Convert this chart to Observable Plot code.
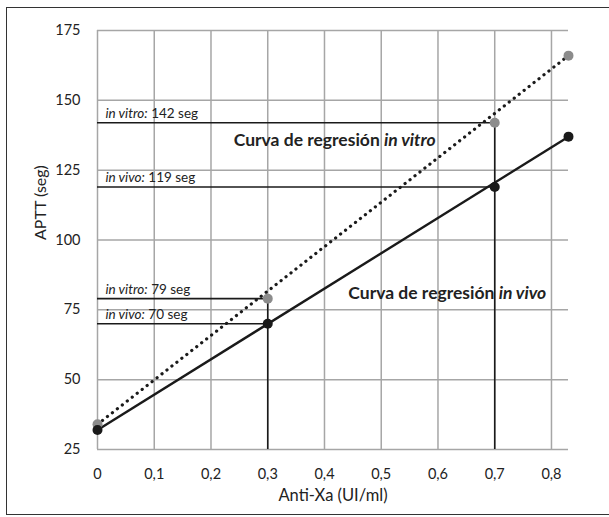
<!DOCTYPE html>
<html>
<head>
<meta charset="utf-8">
<script src="https://cdn.jsdelivr.net/npm/d3@7"></script>
<script src="https://cdn.jsdelivr.net/npm/@observablehq/plot@0.6"></script>
<style>
  html, body { margin: 0; padding: 0; background: #fff; overflow: hidden; }
  #wrap { position: relative; width: 609px; height: 517px; overflow: hidden; }
  #frame { position: absolute; left: 6px; top: 7px; width: 700px; height: 508px; border: 1.5px solid #333; box-sizing: border-box; }
  #chart { position: absolute; left: 0; top: 0; }
</style>
</head>
<body>
<div id="wrap"><div id="frame"></div><div id="chart"></div></div>
<script>
// ---- data ----
const dose = [0, 0.3, 0.7, 0.83];
const apttVitro = [34, 79, 142, 166];
const apttVivo = [32, 70, 119, 137];
const xTicks = [0, 0.1, 0.2, 0.3, 0.4, 0.5, 0.6, 0.7, 0.8];
const xTickLabels = ["0", "0,1", "0,2", "0,3", "0,4", "0,5", "0,6", "0,7", "0,8"];
const yTicks = [25, 50, 75, 100, 125, 150, 175];
const xTitle = "Anti-Xa (UI/ml)";
const yTitle = "APTT (seg)";
// reference readings (dose, value, series)
const refDose = [0.7, 0.7, 0.3, 0.3];
const refValue = [142, 119, 79, 70];
const refLead = ["in vitro:", "in vivo:", "in vitro:", "in vivo:"];
const refTail = [" 142 seg", " 119 seg", " 79 seg", " 70 seg"];
const curveLead = ["Curva de regresión ", "Curva de regresión "];
const curveTail = ["in vitro", "in vivo"];

// ---- tables ----
const vitro = dose.map((d, i) => ({x: d, y: apttVitro[i]}));
const vivo = dose.map((d, i) => ({x: d, y: apttVivo[i]}));
const refs = refDose.map((d, i) => ({x: d, y: refValue[i], lead: refLead[i], tail: refTail[i]}));
const verts = [{x: 0.3, y: 79}, {x: 0.7, y: 142}];
const n = dose.length - 1;
const regress = [
  {x1: dose[0], y1: apttVitro[0], x2: dose[n], y2: apttVitro[n], dotted: true},
  {x1: dose[0], y1: apttVivo[0], x2: dose[n], y2: apttVivo[n], dotted: false}
];
// annotation anchors in data units
const curves = [
  {x: 0.24, y: 133.5, lead: curveLead[0], tail: curveTail[0]},
  {x: 0.442, y: 78.7, lead: curveLead[1], tail: curveTail[1]}
];

const grid = {stroke: "#a6a6a6", strokeOpacity: 1, strokeWidth: 1.5};
const fmt = d => xTickLabels[xTicks.indexOf(d)] ?? String(d).replace(".", ",");

const chart = Plot.plot({
  width: 609, height: 517,
  marginLeft: 97, marginRight: 41, marginTop: 30, marginBottom: 68,
  x: {domain: [0, 0.83]},
  y: {domain: [25, 175]},
  style: {fontFamily: "Lato, 'Open Sans', sans-serif", fontSize: "14px", color: "#222", background: "transparent", overflow: "visible"},
  marks: [
    Plot.gridX(xTicks, grid),
    Plot.gridY(yTicks, grid),
    Plot.axisX(xTicks, {tickSize: 0, tickPadding: 19, tickFormat: fmt, fontSize: 14.5, label: null}),
    Plot.axisY(yTicks, {tickSize: 0, tickPadding: 17, fontSize: 14.5, label: null}),
    Plot.text([xTitle], {frameAnchor: "bottom", dy: 51, fontSize: 16.5, fill: "#222"}),
    Plot.text([yTitle], {frameAnchor: "left", dx: -57, rotate: -90, fontSize: 16, fill: "#222"}),
    Plot.ruleY(refs, {y: "y", x1: 0, x2: "x", stroke: "#1a1a1a", strokeWidth: 1.6}),
    Plot.ruleX(verts, {x: "x", y1: 25, y2: "y", stroke: "#1a1a1a", strokeWidth: 1.6}),
    Plot.link(regress.filter(d => d.dotted), {x1: "x1", y1: "y1", x2: "x2", y2: "y2", stroke: "#1a1a1a", strokeWidth: 3.2, strokeDasharray: "0.1 6.2", strokeLinecap: "round"}),
    Plot.link(regress.filter(d => !d.dotted), {x1: "x1", y1: "y1", x2: "x2", y2: "y2", stroke: "#1a1a1a", strokeWidth: 2.4}),
    Plot.dot(vitro, {x: "x", y: "y", r: 5, fill: "#8c8c8c", stroke: "none"}),
    Plot.dot(vivo, {x: "x", y: "y", r: 5, fill: "#1a1a1a", stroke: "none"}),
    Plot.text(refs, {x: 0, y: "y", text: d => d.lead + d.tail, textAnchor: "start", lineAnchor: "bottom", dx: 8, dy: -5, fontSize: 13.5, fill: "#222", className: "reflabel"}),
    Plot.text(curves, {x: "x", y: "y", text: d => d.lead + d.tail, textAnchor: "start", lineAnchor: "bottom", fontSize: 17.5, fontWeight: "bold", fill: "#222", className: "curvelabel"})
  ]
});
document.getElementById("chart").appendChild(chart);

// mixed italic / roman runs inside the same text element
function splitRuns(cls, rows) {
  const texts = chart.querySelectorAll("g." + cls + " text");
  texts.forEach((t, i) => {
    const r = rows[i];
    if (!r) return;
    while (t.firstChild) t.removeChild(t.firstChild);
    const ns = "http://www.w3.org/2000/svg";
    const a = document.createElementNS(ns, "tspan");
    const b = document.createElementNS(ns, "tspan");
    if (cls === "reflabel") { a.setAttribute("font-style", "italic"); }
    else { b.setAttribute("font-style", "italic"); }
    a.textContent = r.lead;
    b.textContent = r.tail;
    t.setAttribute("xml:space", "preserve");
    t.style.whiteSpace = "pre";
    t.appendChild(a); t.appendChild(b);
  });
}
splitRuns("reflabel", refs);
splitRuns("curvelabel", curves);
</script>
</body>
</html>
